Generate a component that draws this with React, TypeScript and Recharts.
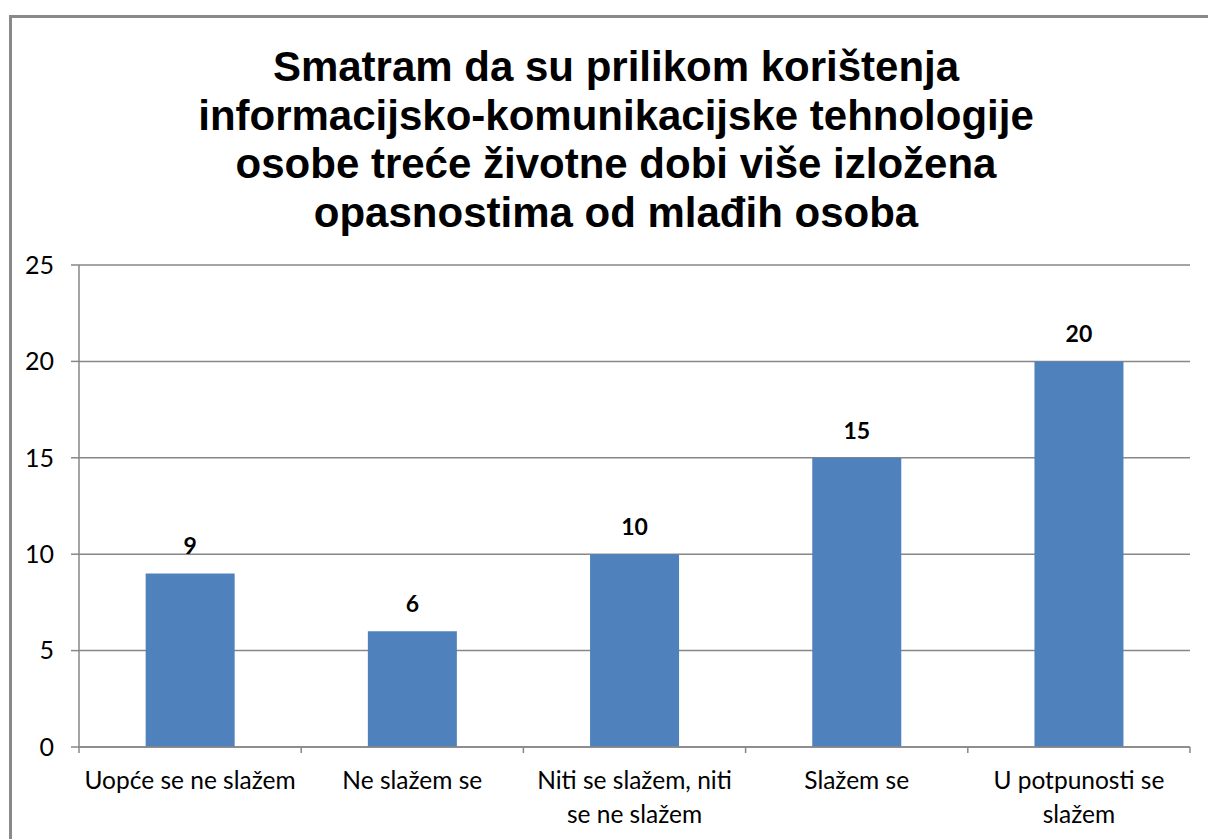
import { BarChart, Bar, XAxis, YAxis, CartesianGrid, LabelList } from 'recharts';

const categories = [
  'Uopće se ne slažem',
  'Ne slažem se',
  'Niti se slažem, niti se ne slažem',
  'Slažem se',
  'U potpunosti se slažem'
];
const counts = [9, 6, 10, 15, 20];
const yTicks = [0, 5, 10, 15, 20, 25];
const titleLines = [
  'Smatram da su prilikom korištenja',
  'informacijsko-komunikacijske tehnologije',
  'osobe treće životne dobi više izložena',
  'opasnostima od mlađih osoba'
];

const data = categories.map((name, i) => ({ name, value: counts[i] }));

const GRAY = '#878787';
const TICK_FONT = 'Lato, "Open Sans", sans-serif';

// wrap a label into lines of at most maxChars characters, like Excel does
function wrap(text: string, maxChars: number) {
  const words = text.split(' ');
  const lines: string[] = [];
  let cur = '';
  words.forEach((w) => {
    const next = cur ? cur + ' ' + w : w;
    if (next.length > maxChars && cur) {
      lines.push(cur);
      cur = w;
    } else {
      cur = next;
    }
  });
  if (cur) lines.push(cur);
  return lines;
}

function CategoryTick(props: any) {
  const { x, y, payload, index } = props;
  const half = payload.offset || 111;
  const lines = wrap(payload.value, 20);
  return (
    <g>
      <line x1={x - half} x2={x - half} y1={y} y2={y + 6} stroke={GRAY} strokeWidth={1.5} />
      {index === categories.length - 1 && (
        <line x1={x + half} x2={x + half} y1={y} y2={y + 6} stroke={GRAY} strokeWidth={1.5} />
      )}
      {lines.map((l, i) => (
        <text
          key={i}
          x={x}
          y={y + 42 + i * 34}
          textAnchor="middle"
          fontFamily={TICK_FONT}
          fontSize={24.5}
          fill="#000"
        >
          {l}
        </text>
      ))}
    </g>
  );
}

export default function App() {
  return (
    <div style={{ position: 'absolute', left: 0, top: 0, width: 1208, height: 839, overflow: 'hidden', background: '#fff' }}>
      <div
        style={{
          position: 'absolute',
          left: 9,
          top: 15,
          width: 1210,
          height: 840,
          borderLeft: '3px solid #898989',
          borderTop: '3px solid #898989'
        }}
      />
      <div
        style={{
          position: 'absolute',
          left: 12,
          top: 43,
          width: 1208,
          textAlign: 'center',
          fontFamily: '"Liberation Sans", Arial, sans-serif',
          fontWeight: 'bold',
          fontSize: 42,
          lineHeight: '48.5px',
          color: '#000'
        }}
      >
        {titleLines.map((t, i) => (
          <div key={i}>{t}</div>
        ))}
      </div>
      <div style={{ position: 'absolute', left: 0, top: 0 }}>
        <BarChart
          width={1208}
          height={839}
          data={data}
          margin={{ top: 265, right: 18, bottom: 0, left: 0 }}
          barCategoryGap="30%"
        >
          <CartesianGrid vertical={false} stroke={GRAY} strokeWidth={1.5} />
          <XAxis
            dataKey="name"
            interval={0}
            height={92}
            tickLine={false}
            tickSize={0}
            tickMargin={0}
            axisLine={{ stroke: GRAY, strokeWidth: 1.5 }}
            tick={<CategoryTick />}
          />
          <YAxis
            width={79}
            domain={[0, 25]}
            ticks={yTicks}
            interval={0}
            tickSize={8}
            tickMargin={17}
            axisLine={{ stroke: GRAY, strokeWidth: 1.5 }}
            tickLine={{ stroke: GRAY, strokeWidth: 1.5 }}
            tick={{ fill: '#000', fontSize: 25, fontFamily: TICK_FONT }}
          />
          <Bar dataKey="value" fill="#4F81BD" isAnimationActive={false}>
            <LabelList
              dataKey="value"
              position="top"
              offset={19}
              fill="#000"
              fontSize={23}
              fontWeight="bold"
              fontFamily={TICK_FONT}
            />
          </Bar>
        </BarChart>
      </div>
    </div>
  );
}
